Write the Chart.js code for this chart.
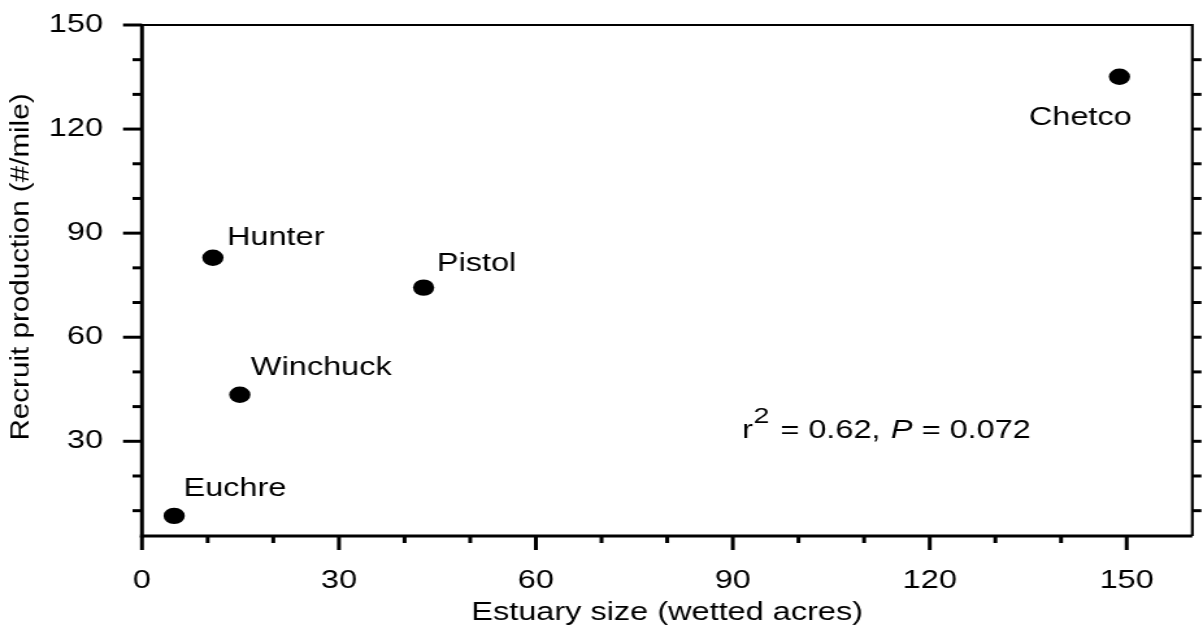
<!DOCTYPE html>
<html>
<head>
<meta charset="utf-8">
<script src="https://cdn.jsdelivr.net/npm/chart.js@4.4.0/dist/chart.umd.min.js"></script>
<style>
    html, body { margin: 0; padding: 0; background: #fff; overflow: hidden; }
    /* the original figure is stretched sideways, so the whole chart is too */
    #wrap { width: 926px; height: 629px; transform: scale(1.2991, 1); transform-origin: 0 0; }
</style>
</head>
<body>
<div id="wrap"><canvas id="chart"></canvas></div>
<script>
const rivers = ["Euchre", "Hunter", "Winchuck", "Pistol", "Chetco"];
const estuarySize = [4.9, 10.8, 14.9, 42.9, 148.9];   // wetted acres
const recruits = [8.5, 82.9, 43.4, 74.3, 135.1];      // #/mile
const xTicks = [0, 10, 20, 30, 40, 50, 60, 70, 80, 90, 100, 110, 120, 130, 140, 150];
const yTicks = [10, 20, 30, 40, 50, 60, 70, 80, 90, 100, 110, 120, 130, 140, 150];
const statText = { r2: "0.62", p: "0.072" };

// where each name sits next to its dot (px, before the stretch)
const labelPlace = [
    { dx: 7.2, dy: -19.7, align: "left" },
    { dx: 10.8, dy: -12.7, align: "left" },
    { dx: 8.5, dy: -19.7, align: "left" },
    { dx: 10.2, dy: -16.7, align: "left" },
    { dx: 9.5, dy: 48.3, align: "right" },
];

const FONT = "'Liberation Sans', Arial, Helvetica, sans-serif";

const line = (ctx, x1, y1, x2, y2) => {
    ctx.beginPath();
    ctx.moveTo(x1, y1);
    ctx.lineTo(x2, y2);
    ctx.stroke();
};

const framePlugin = {
    id: 'frame',
    afterDraw(chart) {
        const { ctx, chartArea: a } = chart;
        const xs = chart.scales.x, ys = chart.scales.y;
        ctx.save();
        ctx.strokeStyle = '#000';
        ctx.fillStyle = '#000';
        ctx.lineCap = 'butt';

        // top + right border
        ctx.lineWidth = 2.2;
        line(ctx, a.left, a.top, a.right, a.top);
        line(ctx, a.right, a.top - 1, a.right, a.bottom);

        // left + bottom axis
        ctx.lineWidth = 3;
        line(ctx, a.left, a.top - 1, a.left, a.bottom + 1.5);
        line(ctx, a.left - 1.5, a.bottom, a.right, a.bottom);

        // tick marks
        yTicks.forEach(v => {
            const py = ys.getPixelForValue(v);
            const len = v % 30 === 0 ? 14.6 : 7.3;
            line(ctx, a.left - len, py, a.left, py);
            if (v < 150) line(ctx, a.right, py, a.right + 7, py);
        });
        xTicks.forEach(v => {
            const px = xs.getPixelForValue(v);
            const len = v % 30 === 0 ? 14 : 7;
            line(ctx, px, a.bottom, px, a.bottom + len);
        });

        // river names
        ctx.font = `25px ${FONT}`;
        ctx.textBaseline = 'alphabetic';
        rivers.forEach((name, i) => {
            const p = labelPlace[i];
            const px = xs.getPixelForValue(estuarySize[i]);
            const py = ys.getPixelForValue(recruits[i]);
            ctx.textAlign = p.align;
            ctx.fillText(name, px + p.dx, py + p.dy);
        });

        // r2 / P annotation
        ctx.textAlign = 'left';
        let tx = xs.getPixelForValue(91.4);
        const ty = ys.getPixelForValue(30.9);
        ctx.font = `25px ${FONT}`;
        ctx.fillText("r", tx, ty);
        tx += ctx.measureText("r").width + 0.5;
        ctx.font = `22px ${FONT}`;
        ctx.fillText("2", tx, ty - 15);
        tx += ctx.measureText("2").width + 1.5;
        ctx.font = `25px ${FONT}`;
        const s1 = ` = ${statText.r2}, `;
        ctx.fillText(s1, tx, ty);
        tx += ctx.measureText(s1).width + 1;
        ctx.font = `italic 25px ${FONT}`;
        ctx.fillText("P", tx, ty);
        tx += ctx.measureText("P").width;
        ctx.font = `25px ${FONT}`;
        ctx.fillText(` = ${statText.p}`, tx, ty);

        // axis titles
        ctx.textAlign = 'center';
        ctx.fillText("Estuary size (wetted acres)", (a.left + a.right) / 2, 620);

        const yTitle = "Recruit production (#/mile)";
        ctx.save();
        ctx.translate(16.2, 267);
        ctx.rotate(-Math.PI / 2);
        ctx.textBaseline = 'middle';
        const w = ctx.measureText(yTitle).width;
        ctx.scale(347 / w, 0.78);
        ctx.fillText(yTitle, 0, 0);
        ctx.restore();

        ctx.restore();
    }
};

const tickFont = { family: FONT, size: 25 };

new Chart(document.getElementById('chart'), {
    type: 'scatter',
    data: {
        datasets: [{
            label: 'Rivers',
            data: estuarySize.map((v, i) => ({ x: v, y: recruits[i] })),
            backgroundColor: '#000',
            borderWidth: 0,
            pointRadius: 8.2,
            pointHoverRadius: 8.2,
        }]
    },
    options: {
        responsive: true,
        maintainAspectRatio: false,
        animation: false,
        events: [],
        layout: { padding: { top: 25, right: 5, left: 0, bottom: 0 } },
        plugins: {
            legend: { display: false },
            tooltip: { enabled: false },
        },
        scales: {
            x: {
                type: 'linear',
                min: 0,
                max: 160,
                grid: { display: false, drawTicks: false },
                border: { display: false },
                afterBuildTicks: s => { s.ticks = xTicks.map(v => ({ value: v })); },
                afterFit: s => {
                    s.height = 93;
                    s.paddingLeft = 0;
                    s.paddingRight = 0;
                },
                ticks: {
                    autoSkip: false,
                    maxRotation: 0,
                    padding: 30,
                    color: '#000',
                    font: tickFont,
                    callback: v => v % 30 === 0 ? String(v) : '',
                },
            },
            y: {
                type: 'linear',
                min: 2.7,
                max: 150,
                grid: { display: false, drawTicks: false },
                border: { display: false },
                afterBuildTicks: s => { s.ticks = yTicks.map(v => ({ value: v })); },
                afterFit: s => {
                    s.width = 109.3;
                    s.paddingTop = 0;
                    s.paddingBottom = 0;
                },
                ticks: {
                    autoSkip: false,
                    padding: 30,
                    color: '#000',
                    font: tickFont,
                    callback: v => v % 30 === 0 ? String(v) : '',
                },
            },
        },
    },
    plugins: [framePlugin],
});
</script>
</body>
</html>
